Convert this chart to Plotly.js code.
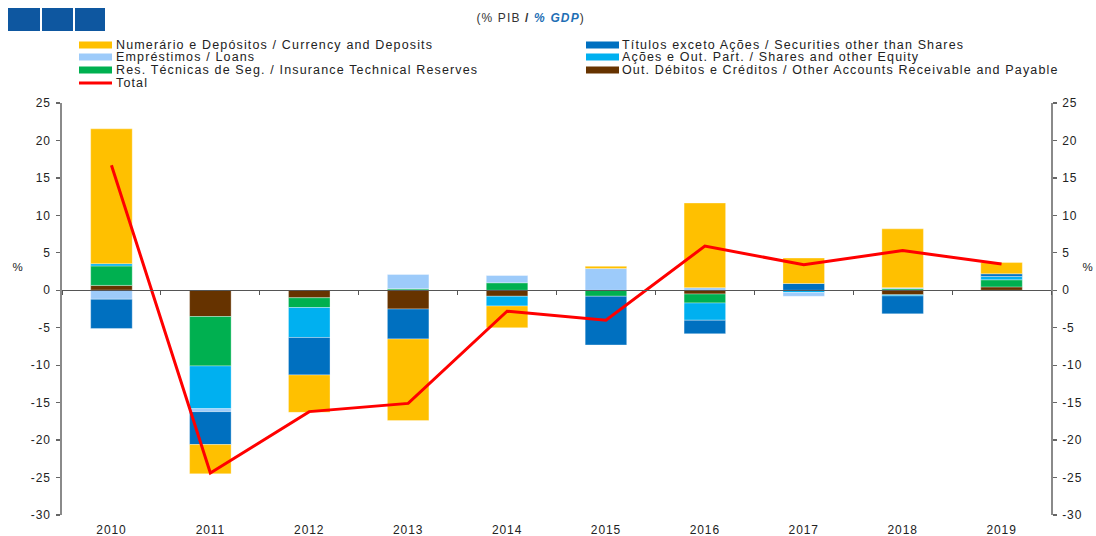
<!DOCTYPE html>
<html>
<head>
<meta charset="utf-8">
<script src="https://cdn.plot.ly/plotly-3.0.1.min.js"></script>
<style>
  html, body { margin: 0; padding: 0; background: #fff; }
  #chart { width: 1096px; height: 536px; }
  .main-svg text { letter-spacing: 0.9px; }
  .main-svg .annotation-text { letter-spacing: 1.15px; }
</style>
</head>
<body>
<div id="chart"></div>
<script>
// ---- Data (% of GDP) ----
const years = ['2010','2011','2012','2013','2014','2015','2016','2017','2018','2019'];

const currency   = [18.0, -3.9, -5.0, -10.9, -2.9, 0.3, 11.3, 3.4, 7.85, 1.5];
const securities = [-3.9, -4.4, -5.0, -4.0, 0, -6.5, -1.8, 0.9, -2.4, 0.35];
const loans      = [-1.2, -0.4, 0, 1.9, 1.0, 2.9, 0.35, -0.5, 0.15, 0];
const shares     = [0.3, -5.7, -4.0, 0, -1.3, 0, -2.3, -0.3, -0.15, 0.45];
const insurance  = [2.6, -6.6, -1.3, 0.2, 1.0, -0.8, -1.2, 0, 0.2, 0.95];
const other      = [0.65, -3.5, -1.0, -2.5, -0.8, 0, -0.5, 0, -0.6, 0.45];
const total      = [16.7, -24.4, -16.2, -15.1, -2.8, -4.0, 5.9, 3.4, 5.3, 3.5];

const yTicks = [-30, -25, -20, -15, -10, -5, 0, 5, 10, 15, 20, 25];
const yTickText = ['-30', '-25', '-20', '-15', '-10', '-5', '0', '5', '10', '15', '20', '25'];

const names = {
  currency:   'Numerário e Depósitos / Currency and Deposits',
  securities: 'Títulos exceto Ações / Securities other than Shares',
  loans:      'Empréstimos / Loans',
  shares:     'Ações e Out. Part. / Shares and other Equity',
  insurance:  'Res. Técnicas de Seg. / Insurance Technical Reserves',
  other:      'Out. Débitos e Créditos / Other Accounts Receivable and Payable',
  total:      'Total'
};
const colors = {
  currency: '#FFC000', securities: '#0070C0', loans: '#9DCBFA',
  shares: '#00B0F0', insurance: '#00B050', other: '#663300', total: '#FF0000'
};

// ---- Geometry helpers (pixel -> paper) ----
const W = 1096, H = 536, ML = 62, MR = 45, MT = 103, MB = 21;
const PW = W - ML - MR, PH = H - MT - MB;
const px = x => (x - ML) / PW;
const py = y => (H - MB - y) / PH;
const yRange = [-30, 25];
const zeroPos = (0 - yRange[0]) / (yRange[1] - yRange[0]);

// stacking order (bottom-up): other, insurance, shares, loans, securities, currency
const order = ['other','insurance','shares','loans','securities','currency'];
const series = {currency, securities, loans, shares, insurance, other};

const traces = order.map(k => ({
  type: 'bar', x: years, y: series[k], name: names[k],
  marker: { color: colors[k], line: { color: 'rgba(255,255,255,0.55)', width: 0.6 } },
  showlegend: false, hoverinfo: 'x+y+name'
}));
traces.push({
  type: 'scatter', mode: 'lines', x: years, y: total, name: names.total, yaxis: 'y2',
  line: { color: colors.total, width: 3 }, showlegend: false
});

// ---- Manual legend (two columns) ----
const legendRows = [
  ['currency', 0, 45], ['securities', 1, 45],
  ['loans', 0, 57],    ['shares', 1, 57],
  ['insurance', 0, 70],['other', 1, 70],
  ['total', 0, 83]
];
const colX = [[79, 112, 114], [586, 619, 620]];
const shapes = [];
const annotations = [];
legendRows.forEach(([k, c, row]) => {
  const [x0, x1, tx] = colX[c];
  if (k === 'total') {
    shapes.push({ type: 'line', xref: 'paper', yref: 'paper',
      x0: px(x0), x1: px(x1), y0: py(row), y1: py(row),
      line: { color: colors[k], width: 3 } });
  } else {
    shapes.push({ type: 'rect', xref: 'paper', yref: 'paper',
      x0: px(x0), x1: px(x1), y0: py(row - 3.5), y1: py(row + 3.5),
      fillcolor: colors[k], line: { width: 0 } });
  }
  annotations.push({ xref: 'paper', yref: 'paper', x: px(tx), y: py(row),
    xanchor: 'left', yanchor: 'middle', align: 'left', showarrow: false, text: names[k],
    font: { family: 'Liberation Sans, Arial, sans-serif', size: 12.5, color: '#222' } });
});

// logo squares
[[8, 40], [42, 73], [75, 105]].forEach(([a, b]) => {
  shapes.push({ type: 'rect', xref: 'paper', yref: 'paper',
    x0: px(a), x1: px(b), y0: py(31), y1: py(8),
    fillcolor: '#0E57A0', line: { width: 0 } });
});

// title
annotations.push({ xref: 'paper', yref: 'paper', x: px(530), y: py(18),
  xanchor: 'center', yanchor: 'middle', showarrow: false,
  text: '(% PIB <b>/</b> <b><i><span style="color:#1F6FB5">% GDP</span></i></b>)',
  font: { family: 'Liberation Sans, Arial, sans-serif', size: 12, color: '#333' } });

// % labels
annotations.push({ xref: 'paper', yref: 'paper', x: px(18), y: py(267),
  xanchor: 'center', yanchor: 'middle', showarrow: false, text: '%',
  font: { family: 'Liberation Sans, Arial, sans-serif', size: 11.5, color: '#222' } });
annotations.push({ xref: 'paper', yref: 'paper', x: px(1088), y: py(267),
  xanchor: 'center', yanchor: 'middle', showarrow: false, text: '%',
  font: { family: 'Liberation Sans, Arial, sans-serif', size: 11.5, color: '#222' } });

const tickFont = { family: 'Liberation Sans, Arial, sans-serif', size: 12, color: '#222' };
const yax = {
  range: yRange, tickmode: 'array', tickvals: yTicks, ticktext: yTickText,
  showgrid: false, zeroline: false,
  showline: true, linecolor: '#8a8a8a', linewidth: 1.8,
  ticks: 'outside', ticklen: 4, tickwidth: 1.2, tickcolor: '#666', tickfont: tickFont,
  ticklabelstandoff: 3, fixedrange: true
};

const layout = {
  width: W, height: H,
  margin: { l: ML, r: MR, t: MT, b: MB, pad: 0 },
  paper_bgcolor: '#fff', plot_bgcolor: '#fff',
  barmode: 'relative', bargap: 0.58,
  showlegend: false,
  font: { family: 'Liberation Sans, Arial, sans-serif', color: '#222' },
  xaxis: {
    type: 'category', anchor: 'free', position: zeroPos,
    showline: true, linecolor: '#555', linewidth: 1.2,
    ticks: 'outside', tickson: 'boundaries', ticklen: 4, tickcolor: '#555',
    ticklabelstandoff: 228, tickfont: tickFont, showgrid: false, zeroline: false, fixedrange: true
  },
  yaxis: Object.assign({}, yax, { side: 'left' }),
  yaxis2: Object.assign({}, yax, { side: 'right', overlaying: 'y', matches: 'y' }),
  shapes, annotations
};

Plotly.newPlot('chart', traces, layout, { displayModeBar: false, staticPlot: true });
</script>
</body>
</html>
